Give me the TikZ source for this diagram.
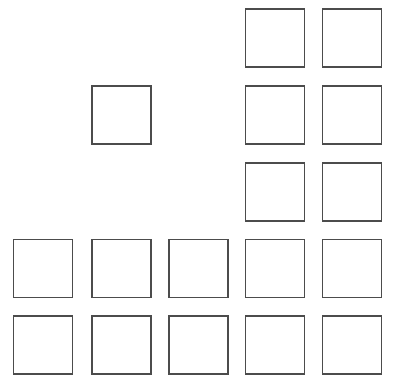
\documentclass[tikz,border=0pt]{standalone}
\begin{document}
\begin{tikzpicture}[x=1pt,y=-1pt,
  sq/.style={draw=black!70, line width=1.1pt, minimum width=59pt, minimum height=58pt, inner sep=0pt, outer sep=0pt}]
\useasboundingbox (0,0) rectangle (396,376);
% columns centers: 42.5, 121.5, 198.5, 274.5, 351.5 ; rows: 38, 115, 192, 268.5, 345
\node[sq] (a4) at (275,38) {};
\node[sq] (a5) at (352,38) {};
\node[sq] (b2) at (121.5,115) {};
\node[sq] (b4) at (275,115) {};
\node[sq] (b5) at (352,115) {};
\node[sq] (c4) at (275,192) {};
\node[sq] (c5) at (352,192) {};
\node[sq] (d1) at (43,268.5) {};
\node[sq] (d2) at (121.5,268.5) {};
\node[sq] (d3) at (198.5,268.5) {};
\node[sq] (d4) at (275,268.5) {};
\node[sq] (d5) at (352,268.5) {};
\node[sq] (e1) at (43,345) {};
\node[sq] (e2) at (121.5,345) {};
\node[sq] (e3) at (198.5,345) {};
\node[sq] (e4) at (275,345) {};
\node[sq] (e5) at (352,345) {};
\end{tikzpicture}
\end{document}
